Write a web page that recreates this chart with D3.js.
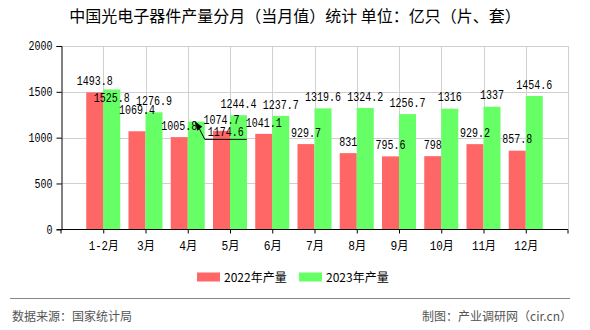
<!DOCTYPE html>
<html><head><meta charset="utf-8">
<script src="https://cdn.jsdelivr.net/npm/d3@7"></script>
<style>
html,body{margin:0;padding:0;background:#fff;}
svg{display:block;}
</style></head>
<body>
<svg id="c" width="590" height="330"></svg>
<script>
const title = "中国光电子器件产量分月（当月值）统计 单位：亿只（片、套）";
const categories = ["1-2月","3月","4月","5月","6月","7月","8月","9月","10月","11月","12月"];
const series2022 = [1493.8,1069.4,1005.8,1074.7,1041.1,929.7,831,795.6,798,929.2,857.8];
const series2023 = [1525.8,1276.9,1174.6,1244.4,1237.7,1319.6,1324.2,1256.7,1316,1337,1454.6];
const seriesNames = ["2022年产量","2023年产量"];
const yTicks = [0,500,1000,1500,2000];
const source = "数据来源：国家统计局";
const credit = "制图：产业调研网（cir.cn）";

const colors = ["#ff6666","#66ff66"];
const monoFont = "'Liberation Mono','Noto Sans CJK SC',monospace";
const sansFont = "'Noto Sans CJK SC','Noto Sans',sans-serif";

const svg = d3.select("#c");
const L = 61, R = 568, T = 46, B = 229.3;

const x = d3.scalePoint().domain(categories).range([L, R]).padding(1);
const y = d3.scaleLinear().domain([0, 2000]).range([B, T]);
const barW = 17;

// fit monospace-looking text to a 6px-per-character pitch
function fitMono(sel) {
  sel.each(function () {
    const t = d3.select(this);
    const s = t.text();
    let w = 0;
    for (const ch of s) w += ch.charCodeAt(0) > 255 ? 12 : 6;
    t.attr("textLength", w).attr("lengthAdjust", "spacingAndGlyphs");
  });
}

// title
svg.append("text").attr("x", 295).attr("y", 22).attr("text-anchor", "middle")
  .attr("font-family", sansFont).attr("font-size", 16).attr("fill", "#000")
  .text(title);

// grid
const grid = svg.append("g").attr("stroke", "#d0d0d0").attr("stroke-width", 1);
yTicks.filter(d => d > 0).forEach(t => {
  grid.append("line").attr("x1", L).attr("x2", R).attr("y1", Math.round(y(t)) + 0.5).attr("y2", Math.round(y(t)) + 0.5);
});
categories.forEach(c => {
  grid.append("line").attr("x1", Math.round(x(c)) + 0.5).attr("x2", Math.round(x(c)) + 0.5).attr("y1", y(2000)).attr("y2", B);
});
grid.append("line").attr("x1", R + 0.5).attr("x2", R + 0.5).attr("y1", y(2000)).attr("y2", B);

// bars
const data = categories.map((c, i) => ({c, v: [series2022[i], series2023[i]]}));
[0, 1].forEach(s => {
  svg.append("g").selectAll("rect").data(data).join("rect")
    .attr("x", d => x(d.c) + (s === 0 ? -barW : 0))
    .attr("y", d => y(d.v[s]))
    .attr("width", barW)
    .attr("height", d => B - y(d.v[s]))
    .attr("fill", colors[s]);
});

// axes
const yAxis = d3.axisLeft(y).tickValues(yTicks).tickFormat(d3.format("d")).tickSize(5).tickPadding(3);
const gy = svg.append("g").attr("transform", `translate(${L + 0.5},0)`).call(yAxis);
const xAxis = d3.axisBottom(x).tickSize(4).tickPadding(6);
const gx = svg.append("g").attr("transform", `translate(0,${Math.round(B) + 0.5})`).call(xAxis);
gx.select(".domain").attr("d", `M${L},4V0H${R}V4`);
[gx, gy].forEach(g => {
  g.select(".domain").attr("stroke", "#000");
  g.selectAll(".tick line").attr("stroke", "#000");
  g.selectAll("text").attr("font-family", monoFont).attr("font-size", 12).attr("fill", "#000");
  fitMono(g.selectAll(".tick text"));
});
gx.selectAll(".tick text").attr("dy", "0.9em");
gy.selectAll(".tick text").attr("x", -9);

// value labels (natural position above the bar, with overlap nudges)
const nudge = {"0-1": [0, 20], "1-0": [0, -9.5], "2-1": [29.5, 21.7]};
const lab = svg.append("g").attr("font-family", monoFont).attr("font-size", 12)
  .attr("fill", "#000").attr("text-anchor", "middle");
data.forEach((d, i) => {
  [0, 1].forEach(s => {
    const cx = x(d.c) + (s === 0 ? -barW / 2 : barW / 2);
    const top = y(d.v[s]);
    const n = nudge[i + "-" + s] || [0, 0];
    const lx = cx + n[0], ly = top - 11.6 + n[1];
    lab.append("text").attr("x", lx).attr("y", ly + 4.3).text(d.v[s]);
    if (n[0] !== 0) {
      const x0 = lx - 21, x1 = lx + 21, yl = ly + 7.6;
      svg.append("path").attr("d", `M${cx},${top + 1}L${x0},${yl}H${x1}`)
        .attr("fill", "none").attr("stroke", "#000").attr("stroke-width", 1);
      svg.append("path").attr("d", `M${cx - 1},${top}l2,9l5,-4z`).attr("fill", "#000");
    }
  });
});
fitMono(lab.selectAll("text"));

// legend
const lg = svg.append("g");
const legX = [197, 299];
seriesNames.forEach((nm, s) => {
  lg.append("rect").attr("x", legX[s]).attr("y", 272.5).attr("width", 23).attr("height", 9).attr("fill", colors[s]);
  lg.append("text").attr("x", legX[s] + 27).attr("y", 281.5).attr("font-family", sansFont)
    .attr("font-size", 12).attr("fill", "#000").text(nm);
});

// footer
svg.append("line").attr("x1", 10).attr("x2", 570).attr("y1", 298.5).attr("y2", 298.5)
  .attr("stroke", "#888").attr("stroke-width", 1);
svg.append("text").attr("x", 12).attr("y", 320.5).attr("font-family", sansFont)
  .attr("font-size", 12).attr("fill", "#555").text(source);
svg.append("text").attr("x", 572).attr("y", 320.5).attr("text-anchor", "end").attr("font-family", sansFont)
  .attr("font-size", 12).attr("fill", "#555").text(credit);
</script>
</body></html>
